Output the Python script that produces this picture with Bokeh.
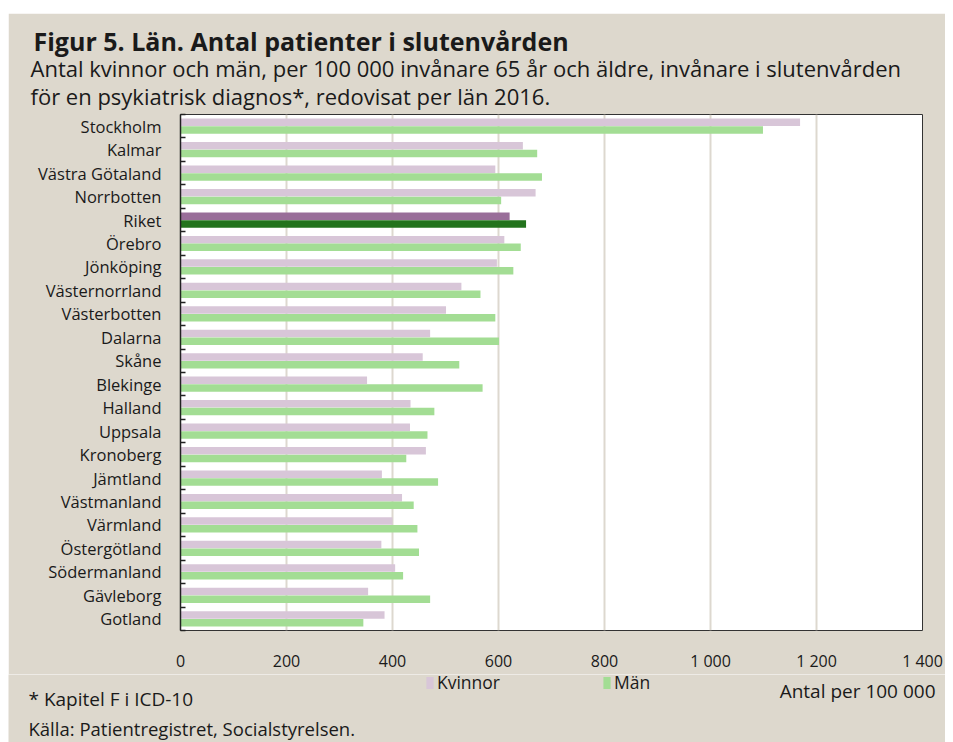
from bokeh.plotting import figure
from bokeh.models import (ColumnDataSource, Range1d, FixedTicker, Legend,
                          LegendItem, Spacer, Title, Label)
from bokeh.layouts import column
from bokeh.embed import file_html
from bokeh.resources import INLINE

# ---------------- data ----------------
lan = ["Stockholm", "Kalmar", "Västra Götaland", "Norrbotten", "Riket", "Örebro",
       "Jönköping", "Västernorrland", "Västerbotten", "Dalarna", "Skåne", "Blekinge",
       "Halland", "Uppsala", "Kronoberg", "Jämtland", "Västmanland", "Värmland",
       "Östergötland", "Södermanland", "Gävleborg", "Gotland"]
kvinnor = [1169, 646, 594, 670, 621, 611, 597, 530, 501, 471, 457, 352,
           434, 433, 463, 380, 418, 400, 379, 405, 354, 385]
man = [1099, 673, 682, 605, 652, 642, 628, 566, 594, 601, 526, 570,
       479, 466, 426, 486, 440, 447, 450, 420, 471, 345]
highlight = "Riket"
series = ["Kvinnor", "Män"]
x_ticks = [0, 200, 400, 600, 800, 1000, 1200, 1400]
x_tick_labels = ["0", "200", "400", "600", "800", "1 000", "1 200", "1 400"]

title_text = "Figur 5. Län. Antal patienter i slutenvården"
subtitle_1 = "Antal kvinnor och män, per 100 000 invånare 65 år och äldre, invånare i slutenvården"
subtitle_2 = "för en psykiatrisk diagnos*, redovisat per län 2016."
x_label = "Antal per 100 000"
note = "* Kapitel F i ICD-10"
source_text = "Källa: Patientregistret, Socialstyrelsen."

# ---------------- styles ----------------
BG = "#ddd8cd"
C_K = "#d8c6d8"
C_M = "#a3dd94"
C_K_H = "#996e99"
C_M_H = "#23731d"
TXT = "#1a1a1a"
FONT = "Open Sans"

n = len(lan)
ypos = [n - 1 - i for i in range(n)]
OFF = 0.165
H = 0.32

def build(rows):
    return ColumnDataSource(dict(
        y_k=[ypos[i] + OFF for i in rows],
        y_m=[ypos[i] - OFF for i in rows],
        k=[kvinnor[i] for i in rows],
        m=[man[i] for i in rows],
    ))

normal_rows = [i for i in range(n) if lan[i] != highlight]
hl_rows = [i for i in range(n) if lan[i] == highlight]
src_n = build(normal_rows)
src_h = build(hl_rows)

# ---------------- main chart ----------------
p = figure(width=937, height=661, output_backend="svg", toolbar_location=None,
           title=None,
           x_range=Range1d(0, 1400), y_range=Range1d(-0.5, n - 0.5),
           min_border_left=172, min_border_right=23, min_border_top=101,
           min_border_bottom=36)
p.margin = (0, 0, 0, 8)
p.frame_align = False
p.background_fill_color = "white"
p.border_fill_color = BG
p.outline_line_color = "#333333"
p.outline_line_width = 1

p.hbar(y="y_k", right="k", left=0, height=H, source=src_n,
       fill_color=C_K, line_color=None)
p.hbar(y="y_m", right="m", left=0, height=H, source=src_n,
       fill_color=C_M, line_color=None)
p.hbar(y="y_k", right="k", left=0, height=H, source=src_h,
       fill_color=C_K_H, line_color=None)
p.hbar(y="y_m", right="m", left=0, height=H, source=src_h,
       fill_color=C_M_H, line_color=None)

# x axis
p.xaxis.ticker = FixedTicker(ticks=x_ticks)
p.xaxis.major_label_overrides = {t: l for t, l in zip(x_ticks, x_tick_labels)}
p.xaxis.axis_line_color = None
p.xaxis.major_tick_line_color = None
p.xaxis.minor_tick_line_color = None
p.xaxis.major_label_text_font = FONT
p.xaxis.major_label_text_font_size = "16px"
p.xaxis.major_label_text_color = TXT
p.xaxis.major_label_standoff = 13

# y axis
p.yaxis.ticker = FixedTicker(ticks=ypos, minor_ticks=[k + 0.5 for k in range(-1, n)])
p.yaxis.major_label_overrides = {ypos[i]: lan[i] for i in range(n)}
p.yaxis.axis_line_color = "#222222"
p.yaxis.axis_line_width = 1.5
p.yaxis.major_tick_line_color = None
p.yaxis.minor_tick_in = 5
p.yaxis.minor_tick_out = 0
p.yaxis.minor_tick_line_color = "#222222"
p.yaxis.minor_tick_line_width = 1.5
p.yaxis.major_label_text_font = FONT
p.yaxis.major_label_text_font_size = "16.5px"
p.yaxis.major_label_text_color = TXT
p.yaxis.major_label_standoff = 13

p.xgrid.grid_line_color = "#ddd8cf"
p.xgrid.grid_line_width = 2
p.ygrid.grid_line_color = None

def ttl(s, size, offset, standoff, bold=False):
    t = Title(text=s, align="left", offset=offset, standoff=standoff,
              text_font=FONT, text_font_size=size, text_color=TXT,
              text_font_style="bold" if bold else "normal")
    p.add_layout(t, "above")

# above: added from the frame outward
ttl(subtitle_2, "22px", -150, 7)
ttl(subtitle_1, "22px", -150, -15)
ttl(title_text, "25px", -147, 1, bold=True)

# ---------------- footer: legend + notes ----------------
f = figure(width=937, height=68, output_backend="svg", toolbar_location=None,
           title=None, x_axis_location=None, y_axis_location=None,
           x_range=Range1d(0, 1400), y_range=Range1d(n + 1, n + 2),
           min_border=0, min_border_left=0, min_border_right=0,
           min_border_top=0, min_border_bottom=0)
f.margin = (0, 0, 0, 8)
f.frame_align = False
f.background_fill_color = BG
f.border_fill_color = BG
f.outline_line_color = None
f.xgrid.visible = False
f.ygrid.visible = False

# series renderers for the legend (bars lie outside this strip's view)
sw_k = f.hbar(y="y_k", right="k", left=0, height=H, source=src_n,
              fill_color=C_K, line_color=None)
sw_m = f.hbar(y="y_m", right="m", left=0, height=H, source=src_n,
              fill_color=C_M, line_color=None)
lg = Legend(items=[LegendItem(label=series[0], renderers=[sw_k]),
                   LegendItem(label=series[1], renderers=[sw_m])],
            location=(417, 48), orientation="horizontal", padding=0, margin=0,
            spacing=95, border_line_color=None, background_fill_alpha=0,
            glyph_width=9, glyph_height=15, label_standoff=3, label_width=70,
            label_text_font=FONT, label_text_font_size="17.5px",
            label_text_color=TXT, label_height=18)
f.add_layout(lg)

def lab(s, x, y, size="19px", align="left"):
    f.add_layout(Label(x=x, y=y, x_units="screen", y_units="screen", text=s,
                       text_font=FONT, text_font_size=size, text_color=TXT,
                       text_align=align, text_baseline="middle"))

lab(x_label, 927, 52, align="right")
lab(note, 20, 44)
lab(source_text, 20, 14, size="18.5px")

layout = column(Spacer(width=945, height=13), p, f, spacing=0)
open("out.html", "w").write(file_html(layout, INLINE))
